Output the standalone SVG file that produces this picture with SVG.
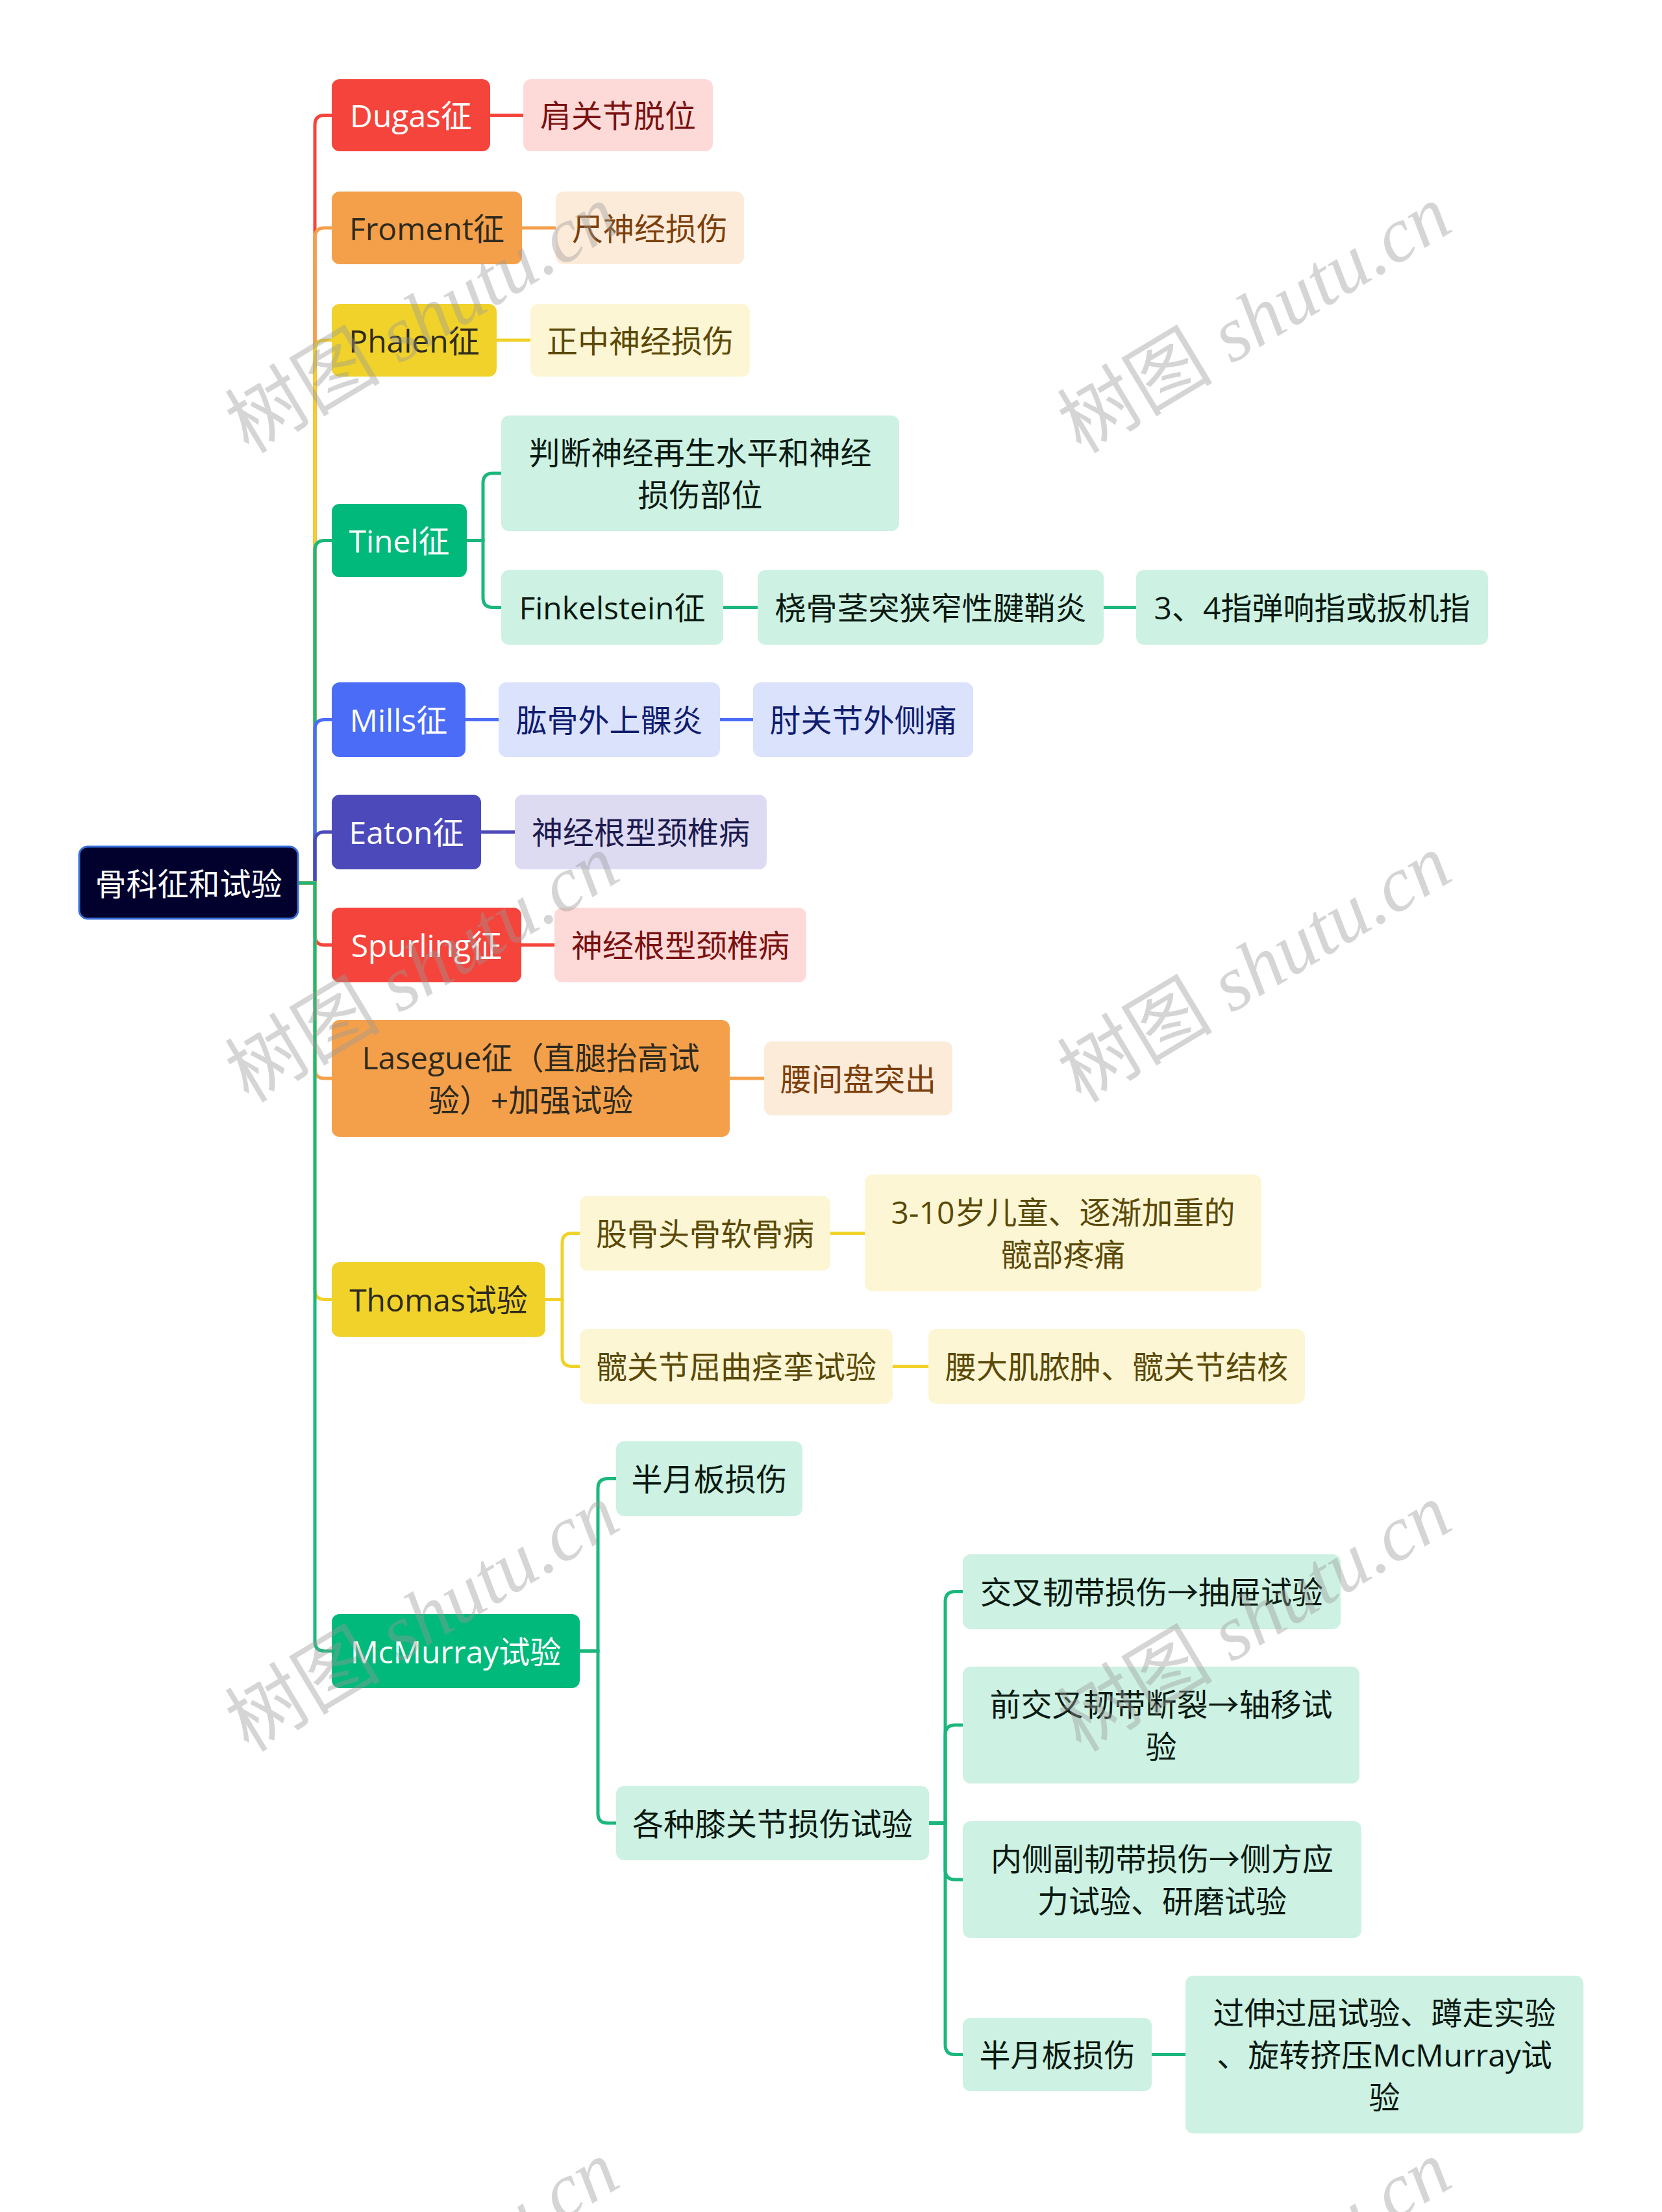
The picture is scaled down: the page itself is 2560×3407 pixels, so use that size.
<svg xmlns="http://www.w3.org/2000/svg" width="2560" height="3407" viewBox="0 0 2560 3407">
<style>
.t{font-family:"Open Sans","Noto Sans CJK SC","Microsoft YaHei",sans-serif;font-size:48px;text-anchor:middle;dominant-baseline:central}
.c{fill:none;stroke-width:5}
.red{fill:#f5443b}.redl{fill:#fddad8}.redt{fill:#7a1111}
.ora{fill:#f4a04b}.oral{fill:#fdebd9}.orat{fill:#7c3f0c}
.yel{fill:#f0d22a}.yell{fill:#fdf6d4}.yelt{fill:#5a4908}
.grn{fill:#00b97a}.grnl{fill:#cdf1e2}.grnt{fill:#0b1a12}
.blu{fill:#4b6cf7}.blul{fill:#dbe2fc}.blut{fill:#101c6e}
.ind{fill:#4c4abb}.indl{fill:#dddbf2}.indt{fill:#1d1a4e}
.w{fill:#ffffff}.dk{fill:#2e2a1e}
.wm{font-family:"Liberation Serif","Noto Sans CJK SC",serif;font-size:120px;fill:#999999;opacity:0.4}
</style>
<rect x="0" y="0" width="2560" height="3407" fill="#ffffff"/>
<g id="connectors">
<path class="c" stroke="#f5443b" d="M459 1360 H485 V192.5 Q485 177.5 500 177.5 H511"/>
<path class="c" stroke="#f4a04b" d="M459 1360 H485 V366 Q485 351 500 351 H511"/>
<path class="c" stroke="#f0d22a" d="M459 1360 H485 V539 Q485 524 500 524 H511"/>
<path class="c" stroke="#1bb77c" d="M459 1360 H485 V847.5 Q485 832.5 500 832.5 H511"/>
<path class="c" stroke="#4b6cf7" d="M459 1360 H485 V1123.5 Q485 1108.5 500 1108.5 H511"/>
<path class="c" stroke="#4c4abb" d="M459 1360 H485 V1296.5 Q485 1281.5 500 1281.5 H511"/>
<path class="c" stroke="#f5443b" d="M459 1360 H485 V1440.5 Q485 1455.5 500 1455.5 H511"/>
<path class="c" stroke="#f4a04b" d="M459 1360 H485 V1646 Q485 1661 500 1661 H511"/>
<path class="c" stroke="#f0d22a" d="M459 1360 H485 V1986.5 Q485 2001.5 500 2001.5 H511"/>
<path class="c" stroke="#1bb77c" d="M459 1360 H485 V2528 Q485 2543 500 2543 H511"/>
<path class="c" stroke="#f5443b" d="M755 177.5 H806"/>
<path class="c" stroke="#f4a04b" d="M804 351 H856"/>
<path class="c" stroke="#f0d22a" d="M765 524 H817"/>
<path class="c" stroke="#1bb77c" d="M719 832.5 H744 V744 Q744 729 759 729 H772"/>
<path class="c" stroke="#1bb77c" d="M719 832.5 H744 V920.5 Q744 935.5 759 935.5 H772"/>
<path class="c" stroke="#1bb77c" d="M1114 935.5 H1167"/>
<path class="c" stroke="#1bb77c" d="M1700 935.5 H1750"/>
<path class="c" stroke="#4b6cf7" d="M717 1108.5 H768"/>
<path class="c" stroke="#4b6cf7" d="M1109 1108.5 H1160"/>
<path class="c" stroke="#4c4abb" d="M741 1281.5 H793"/>
<path class="c" stroke="#f5443b" d="M803 1455.5 H854"/>
<path class="c" stroke="#f4a04b" d="M1124 1661 H1177"/>
<path class="c" stroke="#f0d22a" d="M840 2001.5 H866 V1914.5 Q866 1899.5 881 1899.5 H893"/>
<path class="c" stroke="#f0d22a" d="M840 2001.5 H866 V2089.5 Q866 2104.5 881 2104.5 H893"/>
<path class="c" stroke="#f0d22a" d="M1279 1899.5 H1332"/>
<path class="c" stroke="#f0d22a" d="M1375 2104.5 H1430"/>
<path class="c" stroke="#1bb77c" d="M893 2543 H921 V2292.5 Q921 2277.5 936 2277.5 H949"/>
<path class="c" stroke="#1bb77c" d="M893 2543 H921 V2793 Q921 2808 936 2808 H949"/>
<path class="c" stroke="#1bb77c" d="M1431 2808 H1456 V2466.5 Q1456 2451.5 1471 2451.5 H1483"/>
<path class="c" stroke="#1bb77c" d="M1431 2808 H1456 V2672 Q1456 2657 1471 2657 H1483"/>
<path class="c" stroke="#1bb77c" d="M1431 2808 H1456 V2880 Q1456 2895 1471 2895 H1483"/>
<path class="c" stroke="#1bb77c" d="M1431 2808 H1456 V3149.5 Q1456 3164.5 1471 3164.5 H1483"/>
<path class="c" stroke="#1bb77c" d="M1774 3164.5 H1826"/>
</g>
<g id="root"><rect x="122" y="1304" width="337" height="111" rx="13" fill="#02012e" stroke="#3a6fd8" stroke-width="3"/><text class="t w" x="290.5" y="1360">骨科征和试验</text></g>
<g id="n-dugas"><rect class="red" x="511" y="122" width="244" height="111" rx="12"/><text class="t w" x="633" y="177.5">Dugas征</text></g>
<g id="n-dugas-1"><rect class="redl" x="806" y="122" width="292" height="111" rx="12"/><text class="t redt" x="952" y="177.5">肩关节脱位</text></g>
<g id="n-froment"><rect class="ora" x="511" y="295" width="293" height="112" rx="12"/><text class="t dk" x="657.5" y="351">Froment征</text></g>
<g id="n-froment-1"><rect class="oral" x="856" y="295" width="290" height="112" rx="12"/><text class="t orat" x="1001" y="351">尺神经损伤</text></g>
<g id="n-phalen"><rect class="yel" x="511" y="468" width="254" height="112" rx="12"/><text class="t dk" x="638" y="524">Phalen征</text></g>
<g id="n-phalen-1"><rect class="yell" x="817" y="468" width="338" height="112" rx="12"/><text class="t yelt" x="986" y="524">正中神经损伤</text></g>
<g id="n-tinel"><rect class="grn" x="511" y="776" width="208" height="113" rx="12"/><text class="t w" x="615" y="832.5">Tinel征</text></g>
<g id="n-tinel-1"><rect class="grnl" x="772" y="640" width="613" height="178" rx="12"/><text class="t grnt" x="1078.5" y="696.5">判断神经再生水平和神经</text><text class="t grnt" x="1078.5" y="761.5">损伤部位</text></g>
<g id="n-finkelstein"><rect class="grnl" x="772" y="878" width="342" height="115" rx="12"/><text class="t grnt" x="943" y="935.5">Finkelstein征</text></g>
<g id="n-finkelstein-1"><rect class="grnl" x="1167" y="878" width="533" height="115" rx="12"/><text class="t grnt" x="1433.5" y="935.5">桡骨茎突狭窄性腱鞘炎</text></g>
<g id="n-finkelstein-2"><rect class="grnl" x="1750" y="878" width="542" height="115" rx="12"/><text class="t grnt" x="2021" y="935.5">3、4指弹响指或扳机指</text></g>
<g id="n-mills"><rect class="blu" x="511" y="1051" width="206" height="115" rx="12"/><text class="t w" x="614" y="1108.5">Mills征</text></g>
<g id="n-mills-1"><rect class="blul" x="768" y="1051" width="341" height="115" rx="12"/><text class="t blut" x="938.5" y="1108.5">肱骨外上髁炎</text></g>
<g id="n-mills-2"><rect class="blul" x="1160" y="1051" width="339" height="115" rx="12"/><text class="t blut" x="1329.5" y="1108.5">肘关节外侧痛</text></g>
<g id="n-eaton"><rect class="ind" x="511" y="1224" width="230" height="115" rx="12"/><text class="t w" x="626" y="1281.5">Eaton征</text></g>
<g id="n-eaton-1"><rect class="indl" x="793" y="1224" width="388" height="115" rx="12"/><text class="t indt" x="987" y="1281.5">神经根型颈椎病</text></g>
<g id="n-spurling"><rect class="red" x="511" y="1398" width="292" height="115" rx="12"/><text class="t w" x="657" y="1455.5">Spurling征</text></g>
<g id="n-spurling-1"><rect class="redl" x="854" y="1398" width="388" height="115" rx="12"/><text class="t redt" x="1048" y="1455.5">神经根型颈椎病</text></g>
<g id="n-lasegue"><rect class="ora" x="511" y="1571" width="613" height="180" rx="12"/><text class="t dk" x="817.5" y="1628.5">Lasegue征（直腿抬高试</text><text class="t dk" x="817.5" y="1693.5">验）+加强试验</text></g>
<g id="n-lasegue-1"><rect class="oral" x="1177" y="1604" width="290" height="114" rx="12"/><text class="t orat" x="1322" y="1661">腰间盘突出</text></g>
<g id="n-thomas"><rect class="yel" x="511" y="1944" width="329" height="115" rx="12"/><text class="t dk" x="675.5" y="2001.5">Thomas试验</text></g>
<g id="n-thomas-1"><rect class="yell" x="893" y="1842" width="386" height="115" rx="12"/><text class="t yelt" x="1086" y="1899.5">股骨头骨软骨病</text></g>
<g id="n-thomas-1-1"><rect class="yell" x="1332" y="1809" width="611" height="180" rx="12"/><text class="t yelt" x="1637.5" y="1866.5">3-10岁儿童、逐渐加重的</text><text class="t yelt" x="1637.5" y="1931.5">髋部疼痛</text></g>
<g id="n-thomas-2"><rect class="yell" x="893" y="2047" width="482" height="115" rx="12"/><text class="t yelt" x="1134" y="2104.5">髋关节屈曲痉挛试验</text></g>
<g id="n-thomas-2-1"><rect class="yell" x="1430" y="2047" width="580" height="115" rx="12"/><text class="t yelt" x="1720" y="2104.5">腰大肌脓肿、髋关节结核</text></g>
<g id="n-mcmurray"><rect class="grn" x="511" y="2486" width="382" height="114" rx="12"/><text class="t w" x="702" y="2543">McMurray试验</text></g>
<g id="n-mcmurray-1"><rect class="grnl" x="949" y="2220" width="287" height="115" rx="12"/><text class="t grnt" x="1092.5" y="2277.5">半月板损伤</text></g>
<g id="n-mcmurray-2"><rect class="grnl" x="949" y="2751" width="482" height="114" rx="12"/><text class="t grnt" x="1190" y="2808">各种膝关节损伤试验</text></g>
<g id="n-knee-1"><rect class="grnl" x="1483" y="2394" width="582" height="115" rx="12"/><text class="t grnt" x="1774" y="2451.5">交叉韧带损伤→抽屉试验</text></g>
<g id="n-knee-2"><rect class="grnl" x="1483" y="2567" width="611" height="180" rx="12"/><text class="t grnt" x="1788.5" y="2624.5">前交叉韧带断裂→轴移试</text><text class="t grnt" x="1788.5" y="2689.5">验</text></g>
<g id="n-knee-3"><rect class="grnl" x="1483" y="2805" width="614" height="180" rx="12"/><text class="t grnt" x="1790" y="2862.5">内侧副韧带损伤→侧方应</text><text class="t grnt" x="1790" y="2927.5">力试验、研磨试验</text></g>
<g id="n-knee-4"><rect class="grnl" x="1483" y="3108" width="291" height="113" rx="12"/><text class="t grnt" x="1628.5" y="3164.5">半月板损伤</text></g>
<g id="n-knee-4-1"><rect class="grnl" x="1826" y="3043" width="613" height="243" rx="12"/><text class="t grnt" x="2132.5" y="3099.5">过伸过屈试验、蹲走实验</text><text class="t grnt" x="2132.5" y="3164.5">、旋转挤压McMurray试</text><text class="t grnt" x="2132.5" y="3229.5">验</text></g>
<g id="watermark">
<text class="wm" transform="translate(383 700) rotate(-31)">树图 <tspan font-style="italic">shutu.cn</tspan></text>
<text class="wm" transform="translate(1665 700) rotate(-31)">树图 <tspan font-style="italic">shutu.cn</tspan></text>
<text class="wm" transform="translate(383 1700) rotate(-31)">树图 <tspan font-style="italic">shutu.cn</tspan></text>
<text class="wm" transform="translate(1665 1700) rotate(-31)">树图 <tspan font-style="italic">shutu.cn</tspan></text>
<text class="wm" transform="translate(383 2700) rotate(-31)">树图 <tspan font-style="italic">shutu.cn</tspan></text>
<text class="wm" transform="translate(1665 2700) rotate(-31)">树图 <tspan font-style="italic">shutu.cn</tspan></text>
<text class="wm" transform="translate(383 3712) rotate(-31)">树图 <tspan font-style="italic">shutu.cn</tspan></text>
<text class="wm" transform="translate(1665 3712) rotate(-31)">树图 <tspan font-style="italic">shutu.cn</tspan></text>
</g>
</svg>
